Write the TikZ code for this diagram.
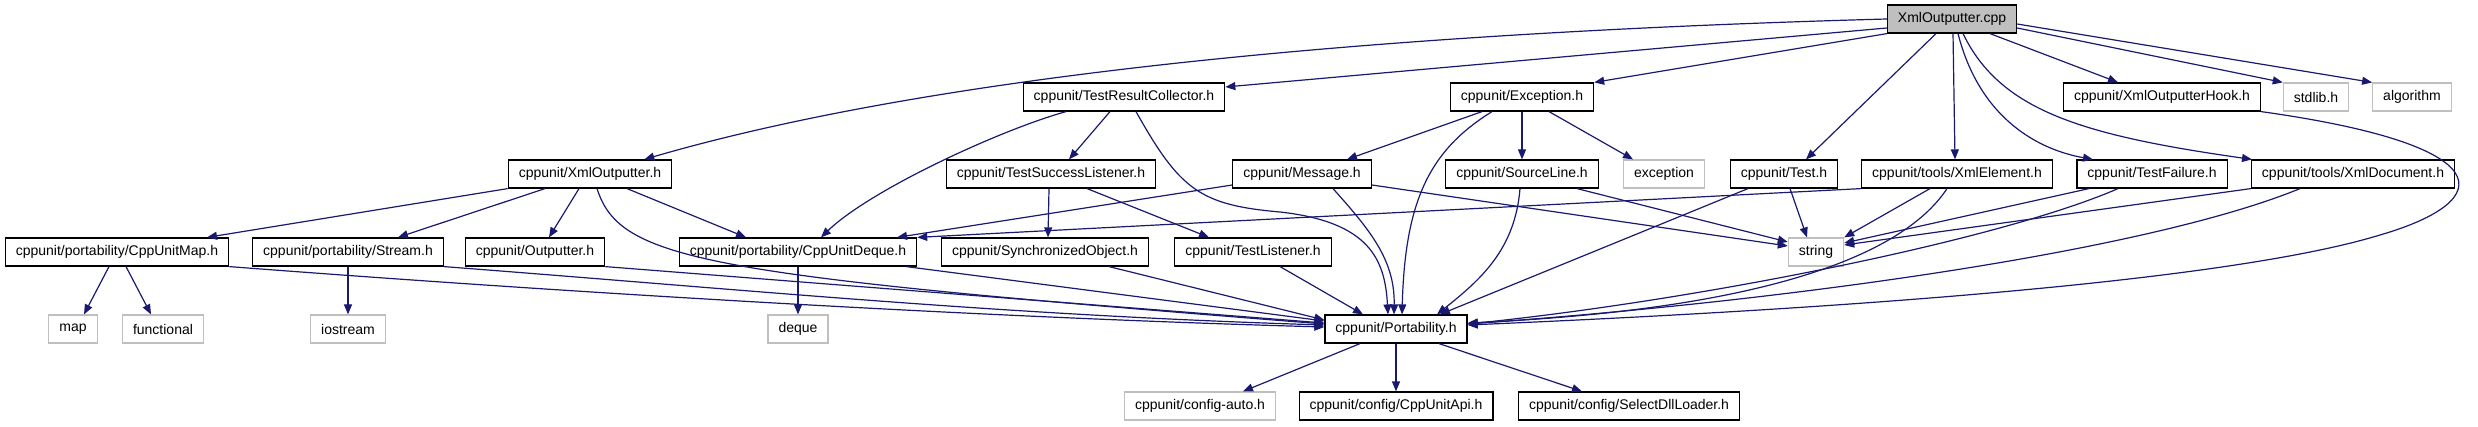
\documentclass[tikz,border=0pt]{standalone}
\usepackage{fontspec}
\setmainfont{Liberation Sans}
\usetikzlibrary{arrows.meta}
\definecolor{linkblue}{HTML}{191970}
\definecolor{sysgrey}{HTML}{BFBFBF}
\begin{document}
\begin{tikzpicture}
         [x=1pt, y=-1pt,
          >={Stealth[length=10pt,width=8pt,inset=0pt]},
          file node/.style={rectangle,draw,line width=1.2pt,minimum height=28pt,inner xsep=10.5pt,inner ysep=0pt,font=\fontsize{14pt}{16pt}\selectfont},
          sys node/.style={file node,draw=sysgrey},
          root node/.style={file node,fill=sysgrey},
          dep/.style={->,draw=linkblue,line width=1.2pt}]
         \useasboundingbox (0,0) rectangle (2478,427);
         \node[root node] (cpp) at (1952,19) {XmlOutputter.cpp};

         \node[file node] (trc) at (1124,97) {cppunit/TestResultCollector.h};
         \node[file node] (exc) at (1522,97) {cppunit/Exception.h};
         \node[file node] (hook) at (2162,97) {cppunit/XmlOutputterHook.h};
         \node[sys node] (stdlib) at (2316,97) {stdlib.h};
         \node[sys node] (algo) at (2412,97) {algorithm};

         \node[file node] (xo) at (590,174) {cppunit/XmlOutputter.h};
         \node[file node] (tsl) at (1051,174) {cppunit/TestSuccessListener.h};
         \node[file node] (msg) at (1302,174) {cppunit/Message.h};
         \node[file node] (src) at (1522,174) {cppunit/SourceLine.h};
         \node[sys node] (excstd) at (1664,174) {exception};
         \node[file node] (test) at (1784,174) {cppunit/Test.h};
         \node[file node] (xel) at (1957,174) {cppunit/tools/XmlElement.h};
         \node[file node] (tf) at (2152,174) {cppunit/TestFailure.h};
         \node[file node] (xdoc) at (2353,174) {cppunit/tools/XmlDocument.h};

         \node[file node] (cmap) at (117,252) {cppunit/portability/CppUnitMap.h};
         \node[file node] (stream) at (348,252) {cppunit/portability/Stream.h};
         \node[file node] (outp) at (535,252) {cppunit/Outputter.h};
         \node[file node] (deq) at (798,252) {cppunit/portability/CppUnitDeque.h};
         \node[file node] (sync) at (1045,252) {cppunit/SynchronizedObject.h};
         \node[file node] (tl) at (1253,252) {cppunit/TestListener.h};
         \node[sys node] (str) at (1816,252) {string};

         \node[sys node] (mapstd) at (73,329) {map};
         \node[sys node] (func) at (163,329) {functional};
         \node[sys node] (ios) at (348,329) {iostream};
         \node[sys node] (dequestd) at (798,329) {deque};
         \node[file node] (port) at (1396,329) {cppunit/Portability.h};

         \node[sys node] (cauto) at (1200,406) {cppunit/config-auto.h};
         \node[file node] (capi) at (1396,406) {cppunit/config/CppUnitApi.h};
         \node[file node] (dll) at (1629,406) {cppunit/config/SelectDllLoader.h};

         % XmlOutputter.cpp
         \draw[dep] (cpp.west) .. controls (1300,35) and (900,85) .. ([xshift=-28pt]xo.north east);
         \draw[dep] ([yshift=-9pt]cpp.west) -- ([yshift=10pt]trc.east);
         \draw[dep] (cpp.south west) -- (exc.north east);
         \draw[dep] ([xshift=-16pt]cpp.south) -- ([xshift=22pt]test.north);
         \draw[dep] ([xshift=1pt]cpp.south) -- ([xshift=-2pt]xel.north);
         \draw[dep] ([xshift=6pt]cpp.south) .. controls (1980,120) and (2040,150) .. ([xshift=-59pt]tf.north);
         \draw[dep] ([xshift=11pt]cpp.south) .. controls (2000,110) and (2080,135) .. ([xshift=-101pt]xdoc.north);
         \draw[dep] ([xshift=38pt]cpp.south) -- ([xshift=-44pt]hook.north);
         \draw[dep] ([yshift=-9pt]cpp.east) -- (stdlib.north west);
         \draw[dep] ([yshift=-5pt]cpp.east) -- (algo.north west);

         % second row
         \draw[dep] ([xshift=-58pt]trc.south) .. controls (1000,130) and (870,190) .. ([xshift=23pt]deq.north);
         \draw[dep] ([xshift=-14pt]trc.south) -- ([xshift=18pt]tsl.north);
         \draw[dep] ([xshift=12pt]trc.south) .. controls (1180,190) and (1200,205) .. (1280,212)
                    .. controls (1370,222) and (1385,260) .. ([xshift=-8pt]port.north);
         \draw[dep] ([xshift=-40pt]exc.south) -- ([xshift=45pt]msg.north);
         \draw[dep] ([xshift=-30pt]exc.south) .. controls (1430,150) and (1405,200) .. ([xshift=6pt]port.north);
         \draw[dep] (exc.south) -- (src.north);
         \draw[dep] ([xshift=27pt]exc.south) -- ([xshift=-31pt]excstd.north);
         \draw[dep] (hook.south east) .. controls (2500,145) and (2500,200) .. (2380,235)
                    .. controls (2200,290) and (1700,315) .. ([yshift=4pt]port.east);

         % third row
         \draw[dep] (xo.south west) -- ([xshift=90pt]cmap.north);
         \draw[dep] ([xshift=-45pt]xo.south) -- ([xshift=50pt]stream.north);
         \draw[dep] ([xshift=-11pt]xo.south) -- ([xshift=14pt]outp.north);
         \draw[dep] ([xshift=7pt]xo.south) .. controls (620,260) and (700,275) .. ([yshift=5pt]port.west);
         \draw[dep] ([xshift=37pt]xo.south) -- ([xshift=-52pt]deq.north);
         \draw[dep] ([xshift=-2pt]tsl.south) -- ([xshift=3pt]sync.north);
         \draw[dep] ([xshift=36pt]tsl.south) -- ([xshift=-44pt]tl.north);
         \draw[dep] ([yshift=-11pt]msg.west) -- ([xshift=99pt]deq.north);
         \draw[dep] ([xshift=31pt]msg.south) .. controls (1370,230) and (1395,260) .. ([xshift=-2pt]port.north);
         \draw[dep] ([yshift=-11pt]msg.east) -- ([yshift=6pt]str.west);
         \draw[dep] ([xshift=-2pt]src.south) .. controls (1515,250) and (1480,280) .. ([xshift=41pt]port.north);
         \draw[dep] ([xshift=55pt]src.south) -- ([yshift=10pt]str.west);
         \draw[dep] ([xshift=-36pt]test.south) -- ([xshift=44pt]port.north);
         \draw[dep] ([xshift=6pt]test.south) -- ([xshift=-9pt]str.north);
         \draw[dep] (xel.south west) -- (deq.north east);
         \draw[dep] ([xshift=-27pt]xel.south) -- (str.north east);
         \draw[dep] ([xshift=-10pt]xel.south) .. controls (1900,260) and (1750,310) .. ([yshift=6pt]port.east);
         \draw[dep] ([xshift=-63pt]tf.south) -- ([yshift=9pt]str.east);
         \draw[dep] ([xshift=-34pt]tf.south) .. controls (2000,240) and (1700,300) .. ([yshift=5pt]port.east);
         \draw[dep] (xdoc.south west) -- ([yshift=7pt]str.east);
         \draw[dep] ([xshift=-53pt]xdoc.south) .. controls (2150,250) and (1800,300) .. ([yshift=5pt]port.east);

         % fourth row
         \draw[dep] ([xshift=-8pt]cmap.south) -- ([xshift=11pt]mapstd.north);
         \draw[dep] ([xshift=9pt]cmap.south) -- ([xshift=-12pt]func.north);
         \draw[dep] (cmap.south east) .. controls (600,295) and (1000,318) .. ([yshift=2pt]port.west);
         \draw[dep] (stream.south) -- (ios.north);
         \draw[dep] (stream.south east) .. controls (750,290) and (1000,315) .. ([yshift=4pt]port.west);
         \draw[dep] (outp.south east) -- ([yshift=6pt]port.west);
         \draw[dep] (deq.south) -- (dequestd.north);
         \draw[dep] ([xshift=-11pt]deq.south east) -- ([yshift=8pt]port.west);
         \draw[dep] ([xshift=64pt]sync.south) -- ([yshift=9pt]port.west);
         \draw[dep] ([xshift=27pt]tl.south) -- ([xshift=-33pt]port.north);

         % Portability.h
         \draw[dep] ([xshift=-36pt]port.south) -- ([xshift=43pt]cauto.north);
         \draw[dep] (port.south) -- (capi.north);
         \draw[dep] ([xshift=43pt]port.south) -- ([xshift=-47pt]dll.north);
      \end{tikzpicture}
\end{document}
